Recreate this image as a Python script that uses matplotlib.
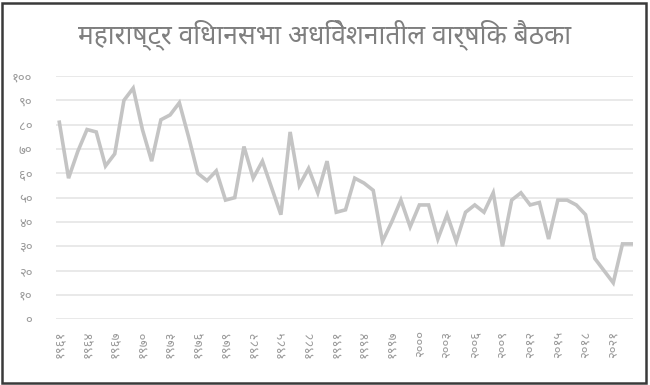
import matplotlib
matplotlib.use('Agg')
import matplotlib.pyplot as plt
from matplotlib import font_manager
from matplotlib.patches import Rectangle

# ── Données ───────────────────────────────────────────────────
TITLE = 'महाराष्ट्र विधानसभा अधिवेशनातील वार्षिक बैठका'
YEARS = list(range(1961, 2024))
SITTINGS = [81, 58, 69, 78, 77, 63, 68, 90, 95, 78,
            65, 82, 84, 89, 75, 60, 57, 61, 49, 50,
            71, 58, 65, 54, 43, 77, 55, 62, 52, 65,
            44, 45, 58, 56, 53, 32, 40, 49, 38, 47,
            47, 33, 43, 32, 44, 47, 44, 52, 30, 49,
            52, 47, 48, 33, 49, 49, 47, 43, 25, 20,
            15, 31, 31]
Y_TICKS = list(range(0, 101, 10))
DEV_DIGITS = str.maketrans('0123456789', '०१२३४५६७८९')

# ── Police devanagari ─────────────────────────────────────────
names = {f.name for f in font_manager.fontManager.ttflist}
dev_font = next((n for n in ['Noto Sans Devanagari', 'Hind', 'Mukta', 'Poppins', 'Akshar']
                 if n in names), 'DejaVu Sans')
plt.rcParams['font.family'] = [dev_font, 'DejaVu Sans']

TITLE_C = '#7f7f7f'
TXT = '#9a9a9a'
LINE = '#c4c4c4'
GRID = '#e3e3e3'

fig = plt.figure(figsize=(6.5, 3.85), dpi=100)
W, H = 650, 385
ax = fig.add_axes([56 / W, (H - 319.3) / H, (633 - 56) / W, (319.3 - 76) / H])

x = list(range(len(YEARS)))
ax.plot(x, SITTINGS, color=LINE, linewidth=2.6, solid_joinstyle='miter')

ax.set_xlim(-0.36, len(YEARS) - 1 + 0.14)
ax.set_ylim(0, 100)
ax.set_yticks(Y_TICKS)
ax.set_yticklabels([str(v).translate(DEV_DIGITS) for v in Y_TICKS])
ax.set_xticks(x[::3])
ax.set_xticklabels([str(y).translate(DEV_DIGITS) for y in YEARS[::3]], rotation=90)
ax.tick_params(length=0, colors=TXT, labelsize=9.5)
ax.tick_params(axis='y', pad=17)
ax.tick_params(axis='x', pad=8)
ax.grid(axis='y', color=GRID, linewidth=1.1)
ax.set_axisbelow(True)
for s in ax.spines.values():
    s.set_visible(False)

fig.text(0.5, 1 - 35 / H, TITLE, ha='center', va='center', fontsize=19, color=TITLE_C)

# cadre du graphique
fig.patches.append(Rectangle((1.5 / W, 2.5 / H), 644 / W, 380 / H, transform=fig.transFigure,
                             fill=False, edgecolor='#3a3a3a', linewidth=1.8))

fig.savefig('out.png', dpi=100)
